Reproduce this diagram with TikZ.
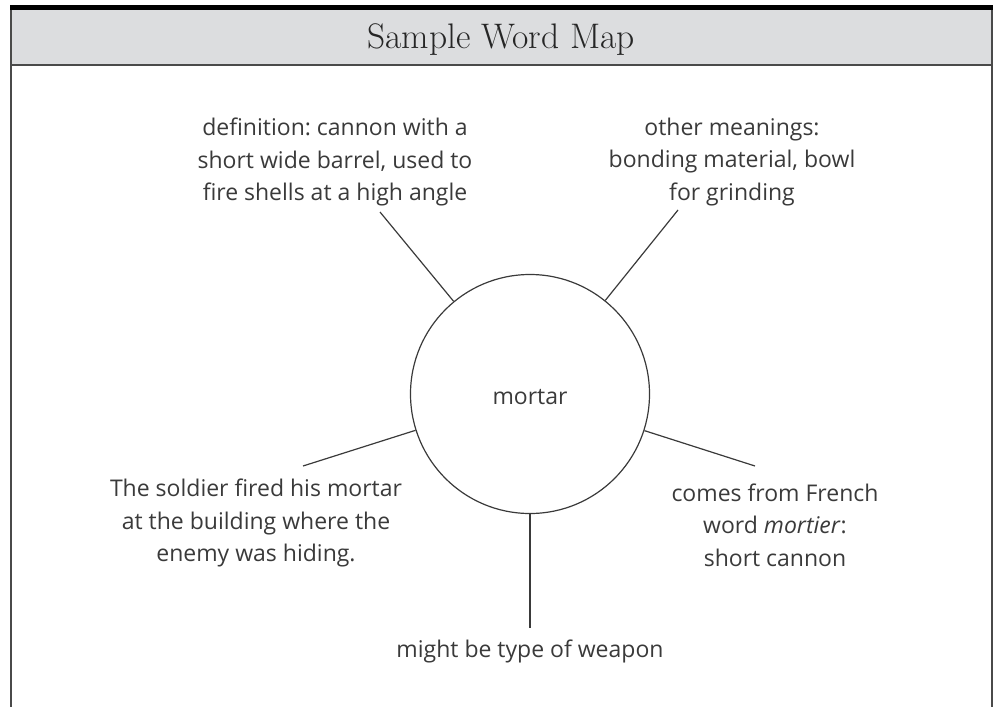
\documentclass[tikz,border=0pt]{standalone}
\usepackage{fontspec}
\setmainfont{Latin Modern Roman}
\newfontfamily\handfont{Open Sans}
\definecolor{hdrgray}{HTML}{DCDDDF}
\definecolor{ink}{HTML}{3A3A3A}
\definecolor{framegray}{HTML}{4A4A4A}
\frenchspacing
\begin{document}
\begin{tikzpicture}[x=1pt,y=-1pt,
  wordtext/.style={inner sep=0pt, text=ink, align=center,
    font=\handfont\frenchspacing\fontsize{23}{32.5}\selectfont},
  link/.style={draw=ink, line width=1.2pt},
  hub/.style={circle, draw=ink, line width=1.2pt, minimum size=239pt, inner sep=0pt}]
\useasboundingbox (0,0) rectangle (995,707);
% header
\fill[hdrgray] (11,10) rectangle (992,65);
\fill[black] (10,5) rectangle (993,10);
\draw[framegray, line width=1.5pt] (11,65) -- (992,65);
\draw[framegray, line width=1.8pt] (11,10) -- (11,707);
\draw[framegray, line width=1.8pt] (992,10) -- (992,707);
\node[anchor=base, inner sep=0pt, text=black!85, font=\fontsize{35.5}{35.5}\selectfont] (title) at (501,48) {Sample Word Map};
% hub
\node[hub] (c) at (530,394) {};
\node[anchor=base, inner sep=0pt, text=ink, font=\handfont\fontsize{23}{27}\selectfont] (m) at (530,404) {mortar};
% free ends
\coordinate (pul) at (380,212);
\coordinate (pur) at (678,210);
\coordinate (pl) at (303,466);
\coordinate (pr) at (755,466);
\coordinate (pb) at (530,628);
\draw[link] (c) -- (pul);
\draw[link] (c) -- (pur);
\draw[link] (c) -- (pl);
\draw[link] (c) -- (pr);
\draw[link] (c.south) -- (pb);
% texts
\node[wordtext] (def) at (335,162) {definition: cannon with a\\short wide barrel, used to\\fire shells at a high angle};
\node[wordtext] (oth) at (732,162) {other meanings:\\bonding material, bowl\\for grinding};
\node[wordtext] (sent) at (256,523) {The soldier fired his mortar\\at the building where the\\enemy was hiding.};
\node[wordtext] (ety) at (775,525) {comes from French\\word \textit{mortier}:\\short cannon};
\node[wordtext, anchor=base] (wpn) at (530,657) {might be type of weapon};
\end{tikzpicture}
\end{document}
